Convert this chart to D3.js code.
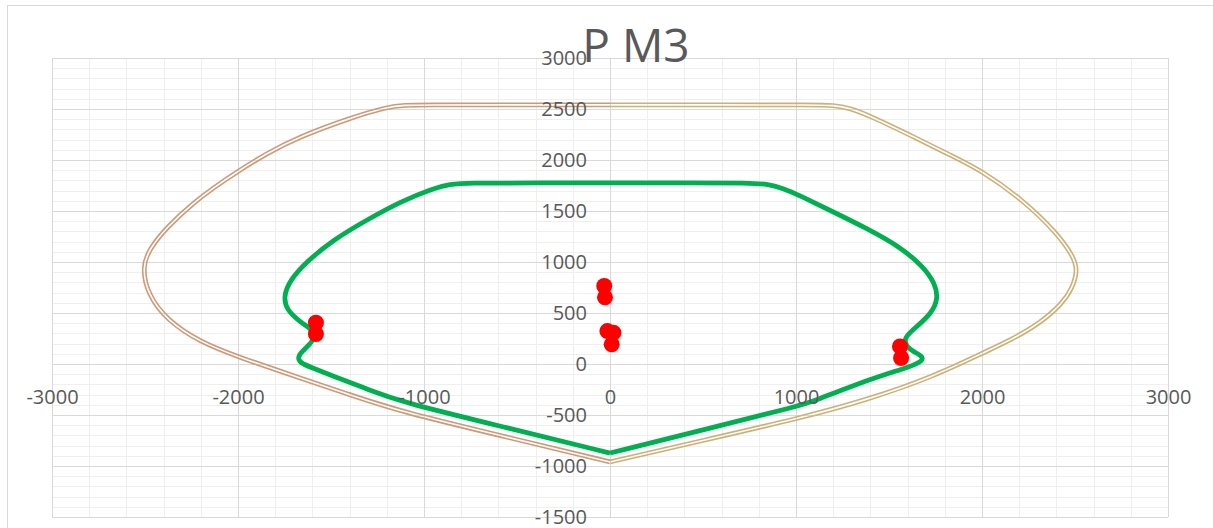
<!DOCTYPE html>
<html>
<head>
<meta charset="utf-8">
<script src="https://cdn.jsdelivr.net/npm/d3@7"></script>
<style>
  html, body { margin: 0; padding: 0; background: #fff; }
  svg { display: block; }
  text { font-family: "Open Sans", "Liberation Sans", sans-serif; fill: #595959; }
</style>
</head>
<body>
<svg id="chart" width="1213" height="528"></svg>
<script>
// ---- DATA ----
const title = "P M3";
const xTicks = [-3000, -2000, -1000, 0, 1000, 2000, 3000];
const yTicks = [-1500, -1000, -500, 0, 500, 1000, 1500, 2000, 2500, 3000];

const outerLeft = [[0,2540],[-600,2540],[-1000,2540],[-1100,2538],[-1200,2520],[-1400,2410],[-1667,2230],[-1846,2065],[-2000,1890],[-2130,1730],[-2240,1580],[-2382,1343],[-2480,1120],[-2515,941],[-2484,680],[-2382,430],[-2204,215],[-2000,70],[-1667,-137],[-1400,-300],[-1129,-465],[-565,-712],[0,-960]];
const outerRight = [[0,2540],[600,2540],[1100,2540],[1200,2537],[1290,2510],[1400,2430],[1613,2245],[1828,2049],[2000,1895],[2220,1608],[2400,1290],[2490,1060],[2515,920],[2485,740],[2430,590],[2312,400],[2160,240],[2000,105],[1738,-124],[1380,-353],[1022,-530],[511,-745],[0,-960]];
const innerLeft = [[0,1775],[-400,1775],[-769,1775],[-860,1762],[-952,1722],[-1129,1590],[-1308,1412],[-1489,1216],[-1631,1003],[-1720,824],[-1756,660],[-1738,529],[-1667,415],[-1613,350],[-1586,300],[-1597,219],[-1658,121],[-1679,65],[-1667,13],[-1613,-29],[-1489,-118],[-1306,-245],[-1129,-370],[-565,-620],[0,-873]];
const innerRight = [[0,1775],[400,1775],[753,1775],[840,1765],[930,1725],[1022,1650],[1201,1490],[1380,1330],[1559,1150],[1685,954],[1747,791],[1765,644],[1729,497],[1649,366],[1577,255],[1595,170],[1631,121],[1685,72],[1676,23],[1613,-26],[1469,-108],[1290,-222],[1111,-353],[1022,-410],[511,-640],[0,-873]];
const loadPoints = [[-1581,405],[-1581,294],[-31,765],[-27,654],[-14,323],[18,307],[9,193],[1559,172],[1565,59]];

// ---- CHART ----
const svg = d3.select("#chart");
const W = 1213, H = 528;
const plot = { left: 52, right: 1168, top: 58, bottom: 517 };

const x = d3.scaleLinear().domain([-3000, 3000]).range([plot.left, plot.right]);
const y = d3.scaleLinear().domain([-1500, 3000]).range([plot.bottom, plot.top]);

// chart area border
svg.append("rect").attr("x", 7.5).attr("y", 5.5).attr("width", W + 10).attr("height", H + 10)
  .attr("fill", "#fff").attr("stroke", "#d9d9d9").attr("stroke-width", 1);

// minor gridlines
const grid = svg.append("g");
grid.selectAll(".vmin").data(d3.range(-3000, 3001, 200)).join("line")
  .attr("x1", d => Math.round(x(d)) + 0.5).attr("x2", d => Math.round(x(d)) + 0.5)
  .attr("y1", plot.top).attr("y2", plot.bottom).attr("stroke", "#efefef").attr("stroke-width", 1);
grid.selectAll(".hmin").data(d3.range(-1500, 3001, 100)).join("line")
  .attr("y1", d => Math.round(y(d)) + 0.5).attr("y2", d => Math.round(y(d)) + 0.5)
  .attr("x1", plot.left).attr("x2", plot.right).attr("stroke", "#efefef").attr("stroke-width", 1);
// major gridlines
grid.selectAll(".vmaj").data(xTicks).join("line")
  .attr("x1", d => Math.round(x(d)) + 0.5).attr("x2", d => Math.round(x(d)) + 0.5)
  .attr("y1", plot.top).attr("y2", plot.bottom).attr("stroke", "#d9d9d9").attr("stroke-width", 1);
grid.selectAll(".hmaj").data(yTicks).join("line")
  .attr("y1", d => Math.round(y(d)) + 0.5).attr("y2", d => Math.round(y(d)) + 0.5)
  .attr("x1", plot.left).attr("x2", plot.right).attr("stroke", "#d9d9d9").attr("stroke-width", 1);

const line = d3.line().x(d => x(d[0])).y(d => y(d[1])).curve(d3.curveBasis);

// double-line outer envelope via masks
const defs = svg.append("defs");
function doubleLine(data, color, id) {
  const m = defs.append("mask").attr("id", id).attr("maskUnits", "userSpaceOnUse")
    .attr("x", 0).attr("y", 0).attr("width", W).attr("height", H);
  m.append("rect").attr("width", W).attr("height", H).attr("fill", "#fff");
  m.append("path").attr("d", line(data)).attr("fill", "none").attr("stroke", "#000").attr("stroke-width", 1.6);
  svg.append("path").attr("d", line(data)).attr("fill", "none").attr("stroke", color)
    .attr("stroke-width", 4.8).attr("mask", `url(#${id})`);
}
doubleLine(outerLeft, "#cc9a78", "mL");
doubleLine(outerRight, "#cbb177", "mR");

// inner curve
[innerLeft, innerRight].forEach(s => {
  svg.append("path").attr("d", line(s)).attr("fill", "none")
    .attr("stroke", "#00b050").attr("stroke-width", 4.8).attr("stroke-linejoin", "round");
});

// load points
svg.append("g").selectAll("circle").data(loadPoints).join("circle")
  .attr("cx", d => x(d[0])).attr("cy", d => y(d[1])).attr("r", 8).attr("fill", "#ff0000");

// axes labels
const fmt = d => String(d);
const xAxis = svg.append("g").attr("transform", `translate(0,${y(0)})`)
  .call(d3.axisBottom(x).tickValues(xTicks).tickSize(0).tickPadding(26).tickFormat(fmt));
const yAxis = svg.append("g").attr("transform", `translate(${x(0)},0)`)
  .call(d3.axisLeft(y).tickValues(yTicks).tickSize(0).tickPadding(23).tickFormat(fmt));
[xAxis, yAxis].forEach(g => {
  g.select(".domain").remove();
  g.selectAll("text").attr("font-size", 20).attr("fill", "#595959")
    .attr("font-family", '"Open Sans", "Liberation Sans", sans-serif');
});

// title
svg.append("text").attr("x", 636).attr("y", 62).attr("text-anchor", "middle")
  .attr("font-size", 46).attr("fill", "#595959").text(title);
</script>
</body>
</html>
